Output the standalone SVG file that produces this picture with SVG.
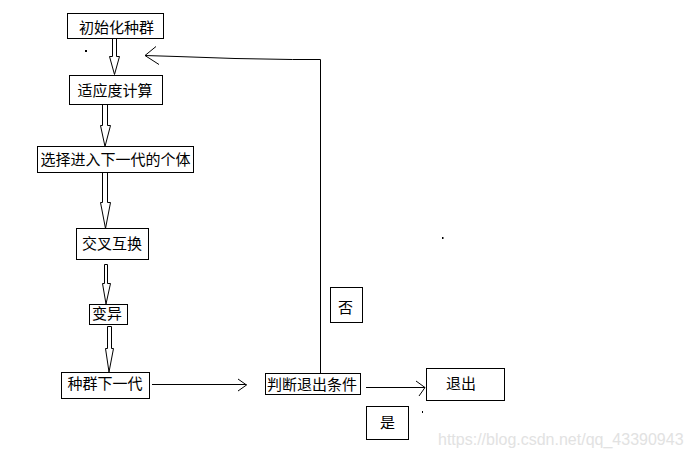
<svg xmlns="http://www.w3.org/2000/svg" width="690" height="458" viewBox="0 0 690 458">
<style>
.box{fill:#fff;stroke:#000;stroke-width:1;shape-rendering:crispEdges}
.t{font-family:"Noto Sans CJK SC","Noto Sans",sans-serif;font-size:15px;fill:#000}
.blk{fill:#fff;stroke:#000;stroke-width:1}
.ln{fill:none;stroke:#000;stroke-width:1}
.wm{font-family:"Liberation Sans",Arial,sans-serif;font-size:16px;fill:#e2e2e2}
</style>
<rect width="690" height="458" fill="#fff"/>
<g id="connectors">
<polygon class="blk" points="112.5,38.5 112.5,56.5 109.5,56.5 114.5,74.5 119.5,56.5 116.5,56.5 116.5,38.5"/>
<polygon class="blk" points="102.5,104.5 102.5,125.5 100.5,125.5 105,146.5 110.5,125.5 107.5,125.5 107.5,104.5"/>
<polygon class="blk" points="102.5,172.5 102.5,202.5 100.5,202.5 105.5,228.5 110.5,202.5 107.5,202.5 107.5,172.5"/>
<polygon class="blk" points="104.5,264.5 104.5,283.5 102.5,283.5 106,304 110.5,283.5 107.5,283.5 107.5,264.5"/>
<polygon class="blk" points="107.5,326.5 107.5,348.5 105.5,348.5 109,372 113.5,348.5 111.5,348.5 111.5,326.5"/>
<path class="ln" d="M152,384.5 H246.5 M238,379 L246.5,385 L238,391"/>
<path class="ln" d="M320.5,373 V59.5 L292.5,59.5 L235,58.5 L177,56.5 L145,55.5 M156,46.5 L145,55.5 L159,64.5"/>
<path class="ln" d="M366,387.5 H425 M416,381 L425,387.5 L419,396"/>
</g>
<g id="n1"><rect class="box" x="67.5" y="13.5" width="96" height="25"/><text class="t" x="79" y="33">初始化种群</text></g>
<g id="n2"><rect class="box" x="69.5" y="75.5" width="93" height="29"/><text class="t" x="77.5" y="95.5">适应度计算</text></g>
<g id="n3"><rect class="box" x="37.5" y="146.5" width="156" height="26"/><text class="t" x="40.5" y="164.5">选择进入下一代的个体</text></g>
<g id="n4"><rect class="box" x="76.5" y="228.5" width="72" height="31"/><text class="t" x="82" y="249">交叉互换</text></g>
<g id="n5"><rect class="box" x="89.5" y="304.5" width="38" height="20"/><text class="t" x="92" y="319">变异</text></g>
<g id="n6"><rect class="box" x="61.5" y="372.5" width="88" height="26"/><text class="t" x="67.5" y="389">种群下一代</text></g>
<g id="n7"><rect class="box" x="265.5" y="373.5" width="95" height="21"/><text class="t" x="267" y="390">判断退出条件</text></g>
<g id="n8"><rect class="box" x="330.5" y="287.5" width="32" height="35"/><text class="t" x="338" y="312.5">否</text></g>
<g id="n9"><rect class="box" x="426.5" y="368.5" width="78" height="32"/><text class="t" x="446" y="389">退出</text></g>
<g id="n10"><rect class="box" x="366.5" y="406.5" width="42" height="33"/><text class="t" x="380" y="428">是</text></g>
<rect x="85" y="50" width="2" height="2" fill="#000"/>
<rect x="442" y="237" width="1.5" height="2" fill="#000"/>
<rect x="422" y="411" width="1" height="2" fill="#000"/>
<text class="wm" x="438" y="445">https://blog.csdn.net/qq_43390943</text>
</svg>
